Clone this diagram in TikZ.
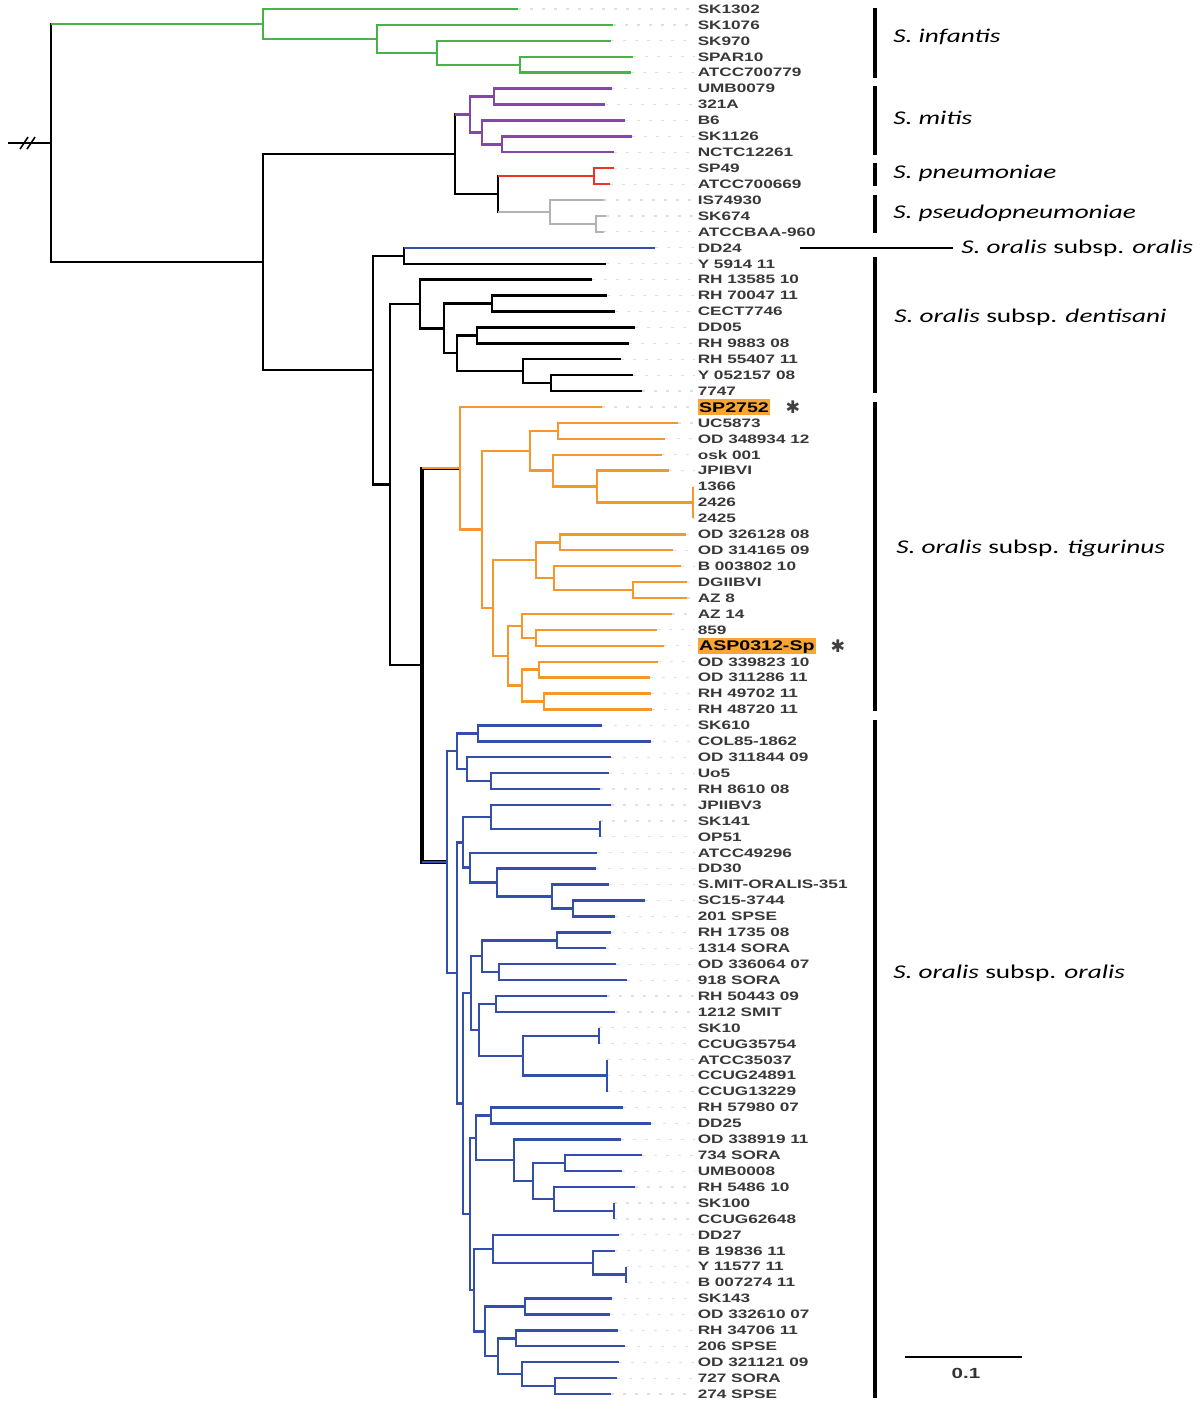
\documentclass[tikz,border=0pt]{standalone}
\usepackage{fontspec}
\setmainfont{Liberation Sans}
\newfontfamily\leaffont[FakeStretch=1.4]{Liberation Sans}
\newfontfamily\cladefont[FakeStretch=1.4]{Carlito}
\newfontfamily\symfont{DejaVu Sans}
\usetikzlibrary{calc}
\definecolor{cgreen}{RGB}{72,178,72}
\definecolor{cpurple}{RGB}{130,72,168}
\definecolor{cred}{RGB}{236,52,36}
\definecolor{cgray}{RGB}{178,178,178}
\definecolor{corange}{RGB}{246,150,44}
\definecolor{cblue}{RGB}{52,78,172}
\definecolor{hl}{RGB}{247,166,52}
\newcommand\ly[1]{(9+15.92*((#1)-1))}
\newcommand\trC[4]{\draw[br,#1] (#3) -- (#2 |- #3) -- (#2 |- #4) -- (#4);}
\newcommand\trBar[4]{\draw[br,#1] (#2 |- #3) -- (#2 |- #4);}
\tikzset{
  br/.style={line width=1.8pt, line join=miter},
  leaf/.style={anchor=west, inner sep=0pt, text height=6.44pt, text depth=0pt,
    font=\leaffont\bfseries\fontsize{9.2}{10}\selectfont, text=black!78},
  hlleaf/.style={anchor=west, inner xsep=1pt, inner ysep=2.25pt, text height=7.5pt, text depth=0pt,
    fill=hl, font=\leaffont\bfseries\fontsize{10.5}{12}\selectfont, text=black},
  leader/.style={draw=black!12, line width=0.9pt, dash pattern=on 2.2pt off 6.8pt, shorten >=2pt},
  cbar/.style={line width=2.4pt},
  clade/.style={anchor=base west, inner sep=0pt, font=\cladefont\fontsize{14.6}{16}\selectfont},
  star/.style={inner sep=0pt, font=\symfont\fontsize{13}{13}\selectfont, text=black!75},
}
\begin{document}
\begin{tikzpicture}[x=0.75pt,y=-0.75pt]
\useasboundingbox (0,0) rectangle (1200,1407);
% leaves: index / tip x / label / style
\foreach \i/\x/\t/\s in {
1/518/SK1302/leaf, 2/613/SK1076/leaf, 3/611/SK970/leaf, 4/633/SPAR10/leaf, 5/631/ATCC700779/leaf,
6/612/UMB0079/leaf, 7/605/321A/leaf, 8/625/B6/leaf, 9/632/SK1126/leaf, 10/614/NCTC12261/leaf,
11/614/SP49/leaf, 12/610/ATCC700669/leaf, 13/604/IS74930/leaf, 14/606/SK674/leaf, 15/604/ATCCBAA-960/leaf,
16/655/DD24/leaf, 17/606/Y 5914 11/leaf, 18/592/RH 13585 10/leaf, 19/607/RH 70047 11/leaf, 20/615/CECT7746/leaf,
21/635/DD05/leaf, 22/629/RH 9883 08/leaf, 23/621/RH 55407 11/leaf, 24/633/Y 052157 08/leaf, 25/642/7747/leaf,
26/602/SP2752/hlleaf, 27/678/UC5873/leaf, 28/665/OD 348934 12/leaf, 29/662/osk 001/leaf, 30/669/JPIBVI/leaf,
31/693/1366/leaf, 32/693/2426/leaf, 33/693/2425/leaf, 34/686/OD 326128 08/leaf, 35/673/OD 314165 09/leaf,
36/681/B 003802 10/leaf, 37/687/DGIIBVI/leaf, 38/687/AZ 8/leaf, 39/672/AZ 14/leaf, 40/657/859/leaf,
41/664/ASP0312-Sp/hlleaf, 42/658/OD 339823 10/leaf, 43/650/OD 311286 11/leaf, 44/651/RH 49702 11/leaf, 45/652/RH 48720 11/leaf,
46/602/SK610/leaf, 47/651/COL85-1862/leaf, 48/611/OD 311844 09/leaf, 49/609/Uo5/leaf, 50/600/RH 8610 08/leaf,
51/611/JPIIBV3/leaf, 52/600/SK141/leaf, 53/600/OP51/leaf, 54/597/ATCC49296/leaf, 55/596/DD30/leaf,
56/609/S.MIT-ORALIS-351/leaf, 57/645/SC15-3744/leaf, 58/615/201 SPSE/leaf, 59/611/RH 1735 08/leaf, 60/606/1314 SORA/leaf,
61/616/OD 336064 07/leaf, 62/627/918 SORA/leaf, 63/607/RH 50443 09/leaf, 64/615/1212 SMIT/leaf, 65/599/SK10/leaf,
66/599/CCUG35754/leaf, 67/607/ATCC35037/leaf, 68/607/CCUG24891/leaf, 69/607/CCUG13229/leaf, 70/623/RH 57980 07/leaf,
71/651/DD25/leaf, 72/621/OD 338919 11/leaf, 73/642/734 SORA/leaf, 74/622/UMB0008/leaf, 75/635/RH 5486 10/leaf,
76/614/SK100/leaf, 77/614/CCUG62648/leaf, 78/619/DD27/leaf, 79/615/B 19836 11/leaf, 80/626/Y 11577 11/leaf,
81/626/B 007274 11/leaf, 82/612/SK143/leaf, 83/610/OD 332610 07/leaf, 84/618/RH 34706 11/leaf, 85/625/206 SPSE/leaf,
86/619/OD 321121 09/leaf, 87/617/727 SORA/leaf, 88/611/274 SPSE/leaf}
{
  \coordinate (t\i) at (\x,{\ly{\i}});
  \node[\s] (n\i) at (697.5,{\ly{\i}}) {\t};
  \draw[leader] (t\i) -- (n\i.west);
}
% internal nodes
\coordinate (root) at (51,{\ly{9.4215}});
\coordinate (brk) at (8,{\ly{9.4215}});
\coordinate (A) at (263,{\ly{1.9375}});
\coordinate (B) at (377,{\ly{2.875}});
\coordinate (C) at (437,{\ly{3.75}});
\coordinate (D) at (520,{\ly{4.5}});
\coordinate (E) at (263,{\ly{16.9055}});
\coordinate (F) at (455,{\ly{10.125}});
\coordinate (M1) at (470,{\ly{7.625}});
\coordinate (M2) at (494,{\ly{6.5}});
\coordinate (M3) at (482,{\ly{8.75}});
\coordinate (M4) at (502,{\ly{9.5}});
\coordinate (PP) at (498,{\ly{12.625}});
\coordinate (R) at (594,{\ly{11.5}});
\coordinate (Gr) at (550,{\ly{13.75}});
\coordinate (Gs) at (596,{\ly{14.5}});
\coordinate (G) at (373,{\ly{23.6865}});
\coordinate (H) at (404,{\ly{16.5}});
\coordinate (K) at (390,{\ly{30.873}});
\coordinate (J) at (420,{\ly{19.53125}});
\coordinate (J2) at (444,{\ly{21.0625}});
\coordinate (J3) at (492,{\ly{19.5}});
\coordinate (J4) at (457,{\ly{22.625}});
\coordinate (J5) at (477,{\ly{21.5}});
\coordinate (J6) at (523,{\ly{23.75}});
\coordinate (J7) at (551,{\ly{24.5}});
\coordinate (L) at (422,{\ly{42.2148}});
\coordinate (T) at (460,{\ly{29.84375}});
\coordinate (T2) at (482,{\ly{33.6875}});
\coordinate (T3) at (530,{\ly{28.75}});
\coordinate (T4) at (493,{\ly{38.625}});
\coordinate (T5) at (558,{\ly{27.5}});
\coordinate (T6) at (553,{\ly{30}});
\coordinate (T7) at (597,{\ly{31}});
\coordinate (T8) at (693,{\ly{32}});
\coordinate (T9) at (536,{\ly{35.625}});
\coordinate (T10) at (508,{\ly{41.625}});
\coordinate (T11) at (560,{\ly{34.5}});
\coordinate (T12) at (554,{\ly{36.75}});
\coordinate (T13) at (633,{\ly{37.5}});
\coordinate (T14) at (522,{\ly{39.75}});
\coordinate (T15) at (522,{\ly{43.5}});
\coordinate (T16) at (536,{\ly{40.5}});
\coordinate (T17) at (539,{\ly{42.5}});
\coordinate (T18) at (544,{\ly{44.5}});
\coordinate (O) at (447,{\ly{54.5859}});
\coordinate (O1) at (457,{\ly{47.625}});
\coordinate (O2) at (457,{\ly{61.546875}});
\coordinate (O3) at (478,{\ly{46.5}});
\coordinate (O4) at (467,{\ly{48.75}});
\coordinate (O5) at (491,{\ly{49.5}});
\coordinate (P) at (463,{\ly{53.34375}});
\coordinate (P1) at (491,{\ly{51.75}});
\coordinate (P1b) at (600,{\ly{52.5}});
\coordinate (P2) at (470,{\ly{54.9375}});
\coordinate (P3) at (497,{\ly{55.875}});
\coordinate (P4) at (552,{\ly{56.75}});
\coordinate (P5) at (573,{\ly{57.5}});
\coordinate (Q) at (463,{\ly{69.75}});
\coordinate (Q1) at (471,{\ly{62.8125}});
\coordinate (Q2) at (470,{\ly{76.6875}});
\coordinate (Q3) at (482,{\ly{60.5}});
\coordinate (Q4) at (479,{\ly{65.125}});
\coordinate (RHn) at (557,{\ly{59.5}});
\coordinate (Q5) at (499,{\ly{61.5}});
\coordinate (Q6) at (496,{\ly{63.5}});
\coordinate (Q7) at (523,{\ly{66.75}});
\coordinate (Q8) at (599,{\ly{65.5}});
\coordinate (Q9) at (607,{\ly{68}});
\coordinate (Q10) at (476,{\ly{71.90625}});
\coordinate (Q11) at (474,{\ly{81.46875}});
\coordinate (Q12) at (491,{\ly{70.5}});
\coordinate (Q13) at (514,{\ly{73.3125}});
\coordinate (Q14) at (533,{\ly{74.625}});
\coordinate (Q15) at (565,{\ly{73.5}});
\coordinate (Q16) at (554,{\ly{75.75}});
\coordinate (Q17) at (614,{\ly{76.5}});
\coordinate (Q18) at (493,{\ly{78.875}});
\coordinate (Q19) at (485,{\ly{84.0625}});
\coordinate (Q20) at (593,{\ly{79.75}});
\coordinate (Q21) at (626,{\ly{80.5}});
\coordinate (Q22) at (525,{\ly{82.5}});
\coordinate (Q23) at (498,{\ly{85.625}});
\coordinate (Q24) at (516,{\ly{84.5}});
\coordinate (Q25) at (522,{\ly{86.75}});
\coordinate (Q26) at (555,{\ly{87.5}});
% root and break mark
\draw[br] (brk) -- (root);
\draw[line width=1.2pt] ($(brk)+(12,6)$) -- ++(8,-12);
\draw[line width=1.2pt] ($(brk)+(19,6)$) -- ++(8,-12);
\trC{black}{root}{A}{E}
\draw[br,cgreen] (root |- A) -- (A);
% S. infantis
\trC{cgreen}{A}{t1}{B}
\trC{cgreen}{B}{t2}{C}
\trC{cgreen}{C}{t3}{D}
\trC{cgreen}{D}{t4}{t5}
% mitis / pneumoniae / pseudopneumoniae
\trC{black}{E}{F}{G}
\trC{black}{F}{M1}{PP}
\draw[br,cpurple] (F |- M1) -- (M1);
\trC{cpurple}{M1}{M2}{M3}
\trC{cpurple}{M2}{t6}{t7}
\trC{cpurple}{M3}{t8}{M4}
\trC{cpurple}{M4}{t9}{t10}
\trC{black}{PP}{R}{Gr}
\draw[br,cred] (PP |- R) -- (R);
\draw[br,cgray] (PP |- Gr) -- (Gr);
\trC{cred}{R}{t11}{t12}
\trC{cgray}{Gr}{t13}{Gs}
\trC{cgray}{Gs}{t14}{t15}
% oralis group
\trC{black}{G}{H}{K}
\trC{black}{H}{t16}{t17}
\draw[br,cblue] (H |- t16) -- (t16);
\trC{black}{K}{J}{L}
\trC{black}{J}{t18}{J2}
\trC{black}{J2}{J3}{J4}
\trC{black}{J3}{t19}{t20}
\trC{black}{J4}{J5}{J6}
\trC{black}{J5}{t21}{t22}
\trC{black}{J6}{t23}{J7}
\trC{black}{J7}{t24}{t25}
\trC{black,line width=2.4pt}{L}{T}{O}
\draw[br,corange] (L |- T) -- (T);
\draw[br,cblue] (L |- O) -- (O);
% tigurinus
\trC{corange}{T}{t26}{T2}
\trC{corange}{T2}{T3}{T4}
\trC{corange}{T3}{T5}{T6}
\trC{corange}{T5}{t27}{t28}
\trC{corange}{T6}{t29}{T7}
\trC{corange}{T7}{t30}{T8}
\trBar{corange}{T8}{t31}{t33}
\trC{corange}{T4}{T9}{T10}
\trC{corange}{T9}{T11}{T12}
\trC{corange}{T11}{t34}{t35}
\trC{corange}{T12}{t36}{T13}
\trC{corange}{T13}{t37}{t38}
\trC{corange}{T10}{T14}{T15}
\trC{corange}{T14}{t39}{T16}
\trC{corange}{T16}{t40}{t41}
\trC{corange}{T15}{T17}{T18}
\trC{corange}{T17}{t42}{t43}
\trC{corange}{T18}{t44}{t45}
% oralis subsp. oralis
\trC{cblue}{O}{O1}{O2}
\trC{cblue}{O1}{O3}{O4}
\trC{cblue}{O3}{t46}{t47}
\trC{cblue}{O4}{t48}{O5}
\trC{cblue}{O5}{t49}{t50}
\trC{cblue}{O2}{P}{Q}
\trC{cblue}{P}{P1}{P2}
\trC{cblue}{P1}{t51}{P1b}
\trBar{cblue}{P1b}{t52}{t53}
\trC{cblue}{P2}{t54}{P3}
\trC{cblue}{P3}{t55}{P4}
\trC{cblue}{P4}{t56}{P5}
\trC{cblue}{P5}{t57}{t58}
\trC{cblue}{Q}{Q1}{Q2}
\trC{cblue}{Q1}{Q3}{Q4}
\trC{cblue}{Q3}{RHn}{Q5}
\trC{cblue}{RHn}{t59}{t60}
\trC{cblue}{Q5}{t61}{t62}
\trC{cblue}{Q4}{Q6}{Q7}
\trC{cblue}{Q6}{t63}{t64}
\trC{cblue}{Q7}{Q8}{Q9}
\trBar{cblue}{Q8}{t65}{t66}
\trBar{cblue}{Q9}{t67}{t69}
\trC{cblue}{Q2}{Q10}{Q11}
\trC{cblue}{Q10}{Q12}{Q13}
\trC{cblue}{Q12}{t70}{t71}
\trC{cblue}{Q13}{t72}{Q14}
\trC{cblue}{Q14}{Q15}{Q16}
\trC{cblue}{Q15}{t73}{t74}
\trC{cblue}{Q16}{t75}{Q17}
\trBar{cblue}{Q17}{t76}{t77}
\trC{cblue}{Q11}{Q18}{Q19}
\trC{cblue}{Q18}{t78}{Q20}
\trC{cblue}{Q20}{t79}{Q21}
\trBar{cblue}{Q21}{t80}{t81}
\trC{cblue}{Q19}{Q22}{Q23}
\trC{cblue}{Q22}{t82}{t83}
\trC{cblue}{Q23}{Q24}{Q25}
\trC{cblue}{Q24}{t84}{t85}
\trC{cblue}{Q25}{t86}{Q26}
\trC{cblue}{Q26}{t87}{t88}
% asterisks
\node[star] (s1) at (793,{\ly{26}}) {✱};
\node[star] (s2) at (838,{\ly{41}}) {✱};
% clade bars and labels
\draw[cbar] (875,8) -- (875,78);
\draw[cbar] (875,86) -- (875,155);
\draw[cbar] (875,163) -- (875,186);
\draw[cbar] (875,195) -- (875,233);
\draw[line width=1.7pt] (800,247.8) -- (953,247.8);
\draw[cbar] (875,257) -- (875,393);
\draw[cbar] (875,402) -- (875,711);
\draw[cbar] (875,720) -- (875,1398);
\node[clade] (c1) at (893,{36+6.3}) {\itshape S. infantis};
\node[clade] (c2) at (893,{118+6.3}) {\itshape S. mitis};
\node[clade] (c3) at (893,{172+6.3}) {\itshape S. pneumoniae};
\node[clade] (c4) at (893,{212+6.3}) {\itshape S. pseudopneumoniae};
\node[clade] (c5) at (961,{247+6.3}) {{\itshape S. oralis} subsp. {\itshape oralis}};
\node[clade] (c6) at (894,{316+6.3}) {{\itshape S. oralis} subsp. {\itshape dentisani}};
\node[clade] (c7) at (896,{547+6.3}) {{\itshape S. oralis} subsp. {\itshape tigurinus}};
\node[clade] (c8) at (893,{972+6.3}) {{\itshape S. oralis} subsp. {\itshape oralis}};
% scale bar
\coordinate (sb1) at (905,1357);
\coordinate (sb2) at (1022,1357);
\draw[line width=1.7pt] (sb1) -- (sb2);
\node[font=\leaffont\bfseries\fontsize{11}{12}\selectfont, text=black!80] (sbl) at (966,1373) {0.1};
\end{tikzpicture}
\end{document}
